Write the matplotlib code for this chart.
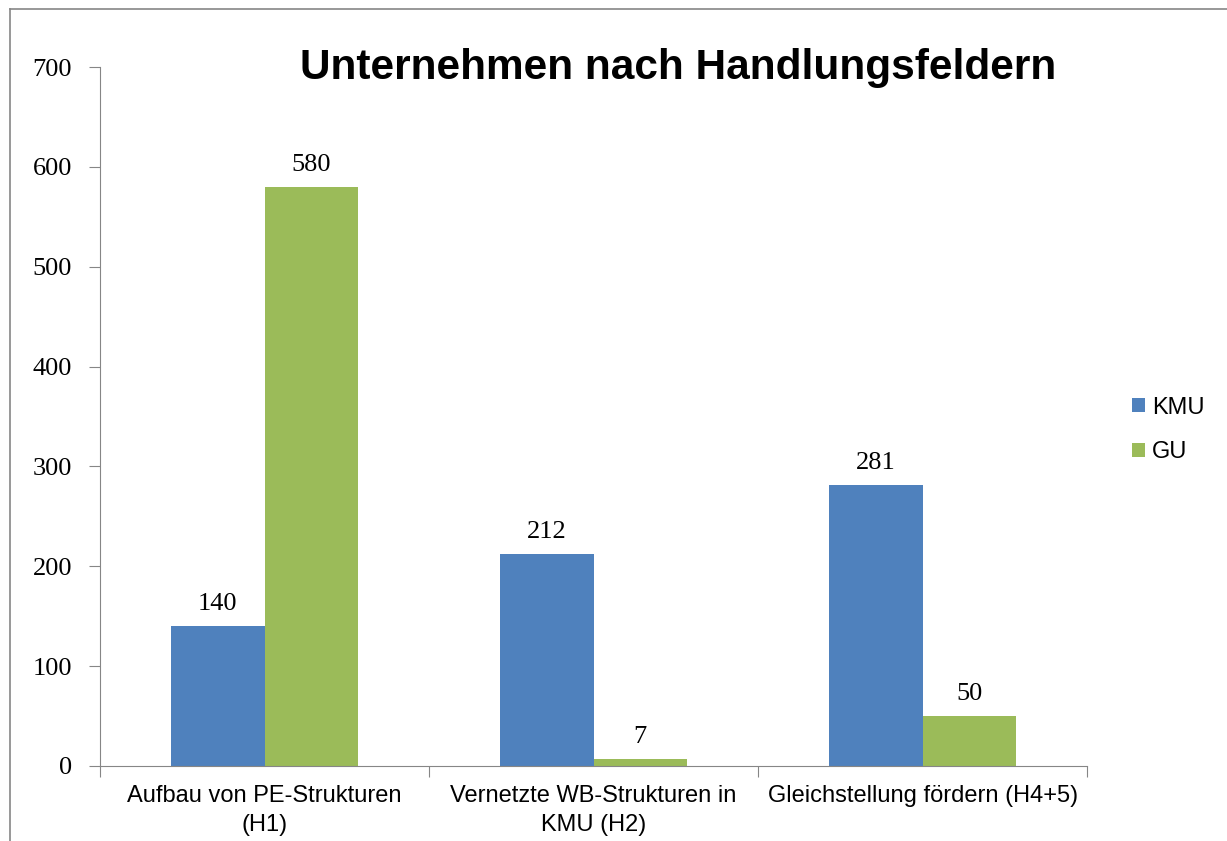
import numpy as np
from matplotlib import pyplot as plt
from matplotlib.lines import Line2D

categories = ['Aufbau von PE-Strukturen\n(H1)', 'Vernetzte WB-Strukturen in\nKMU (H2)', 'Gleichstellung fördern (H4+5)']
kmu = [140, 212, 281]
gu = [580, 7, 50]
series_names = ['KMU', 'GU']
colors = ['#4F81BD', '#9BBB59']

fig = plt.figure(figsize=(12.27, 8.41), dpi=100)
ax = fig.add_axes([0.0815, 0.0892, 0.8045, 0.8311])

x = np.arange(len(categories))
w = 0.284
bars_k = ax.bar(x - w / 2, kmu, w, color=colors[0], label=series_names[0])
bars_g = ax.bar(x + w / 2, gu, w, color=colors[1], label=series_names[1])

for bars in (bars_k, bars_g):
    for b in bars:
        ax.annotate(f'{int(b.get_height())}', (b.get_x() + b.get_width() / 2, b.get_height()),
                    xytext=(0, 8), textcoords='offset points', ha='center', va='bottom',
                    family='Liberation Serif', fontsize=19)

ax.set_xlim(-0.5, 2.5)
ax.set_ylim(0, 700)
ax.set_yticks(range(0, 701, 100))
ax.set_yticklabels([str(v) for v in range(0, 701, 100)], family='Liberation Serif', fontsize=19)

ax.set_xticks([-0.5, 0.5, 1.5, 2.5])
ax.set_xticklabels([])
ax.set_xticks(x, minor=True)
ax.set_xticklabels(categories, minor=True, family='Liberation Sans', fontsize=17, linespacing=1.4)
ax.tick_params(axis='x', which='minor', length=0, pad=14)
ax.tick_params(axis='x', which='major', length=8, color='#868686', direction='out')
ax.tick_params(axis='y', length=8, color='#868686', direction='out', pad=12)

for s in ['top', 'right']:
    ax.spines[s].set_visible(False)
for s in ['left', 'bottom']:
    ax.spines[s].set_color('#868686')

fig.text(0.553, 0.919, 'Unternehmen nach Handlungsfeldern', ha='center', va='center',
         family='Liberation Sans', fontweight='bold', fontsize=30.5)

leg = fig.legend(handles=[bars_k, bars_g], labels=series_names, loc='center left',
                 bbox_to_anchor=(0.905, 0.489), frameon=False, handlelength=0.55, handleheight=0.55,
                 handletextpad=0.3, labelspacing=0.95, prop={'family': 'Liberation Sans', 'size': 17})

# chart area border (only top and left visible in the original crop)
fig.add_artist(Line2D([0.008, 1.0], [0.989, 0.989], transform=fig.transFigure, color='#868686', lw=1.2))
fig.add_artist(Line2D([0.008, 0.008], [0.0, 0.989], transform=fig.transFigure, color='#868686', lw=1.2))

fig.savefig('out.png', dpi=100)
